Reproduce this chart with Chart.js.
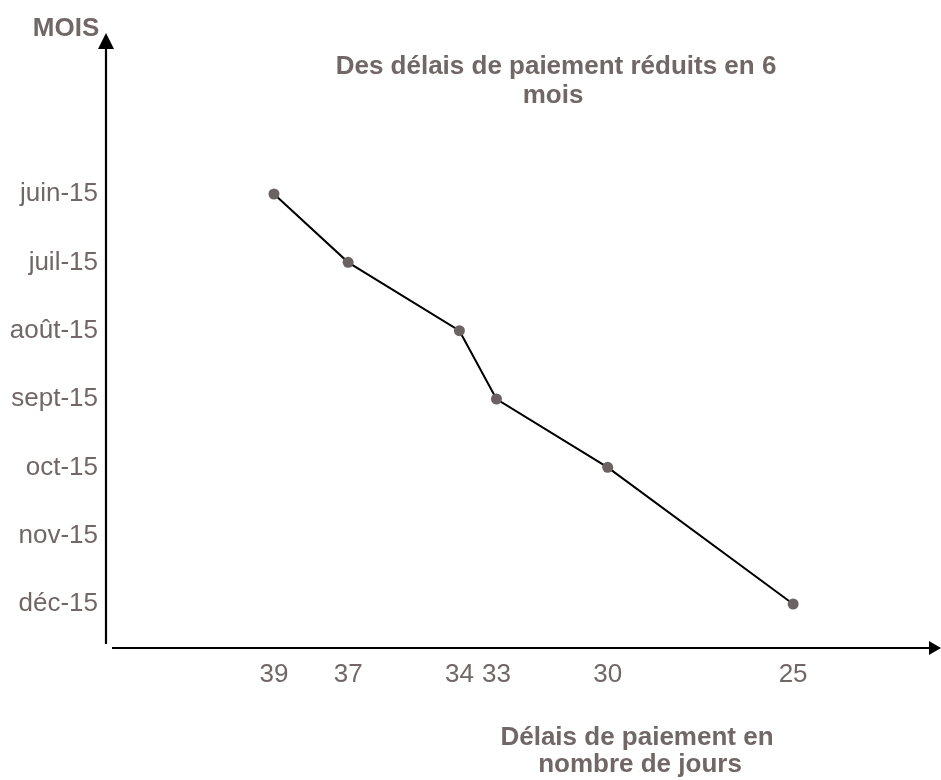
<!DOCTYPE html>
<html>
<head>
<meta charset="utf-8">
<script src="https://cdn.jsdelivr.net/npm/chart.js@4/dist/chart.umd.min.js"></script>
<style>
  html, body { margin: 0; padding: 0; background: #fff; }
  #wrap { width: 941px; height: 780px; }
</style>
</head>
<body>
<div id="wrap"><canvas id="myChart"></canvas></div>
<script>
// months on the vertical axis, top to bottom
let mois = ['juin-15','juil-15','août-15','sept-15','oct-15','nov-15','déc-15'];
// payment delay in days (no point for nov-15)
let delais = [39,37,34,33,30,null,25];
// tick labels along the horizontal axis
let joursTicks = [39,37,34,33,30,25];

let textColor = '#716767';

// arrows for both axes + free texts
const decor = {
  id: 'decor',
  beforeDatasetsDraw(chart) {
    const ctx = chart.ctx;
    const a = chart.chartArea;
    const x0 = a.left;
    ctx.save();
    ctx.strokeStyle = '#000';
    ctx.fillStyle = '#000';
    ctx.lineWidth = 2.2;
    // vertical axis
    ctx.beginPath();
    ctx.moveTo(x0, 644);
    ctx.lineTo(x0, 46);
    ctx.stroke();
    ctx.beginPath();
    ctx.moveTo(x0 - 8, 49);
    ctx.lineTo(x0 + 8, 49);
    ctx.lineTo(x0, 33);
    ctx.closePath();
    ctx.fill();
    // horizontal axis
    ctx.beginPath();
    ctx.moveTo(x0 + 6, 648);
    ctx.lineTo(932, 648);
    ctx.stroke();
    ctx.beginPath();
    ctx.moveTo(929, 641);
    ctx.lineTo(929, 655);
    ctx.lineTo(941, 648);
    ctx.closePath();
    ctx.fill();

    ctx.fillStyle = textColor;
    ctx.textAlign = 'center';
    ctx.textBaseline = 'middle';
    ctx.font = 'bold 26px "Liberation Sans", Arial, sans-serif';
    ctx.fillText('MOIS', 66, 29);
    ctx.fillText('Des délais de paiement réduits en 6', 556, 67);
    ctx.fillText('mois', 553, 96);
    ctx.fillText('Délais de paiement en', 637, 738);
    ctx.fillText('nombre de jours', 640, 765);
    ctx.restore();
  }
};

function renderChart(){
  let ctx = document.getElementById('myChart');
  new Chart(ctx, {
    type: 'line',
    data: {
      labels: mois,
      datasets: [{
        data: delais,
        borderColor: '#000',
        borderWidth: 2,
        pointBackgroundColor: '#6b6363',
        pointBorderWidth: 0,
        pointRadius: 5.5,
        spanGaps: true,
        clip: false,
        fill: false
      }]
    },
    options: {
      indexAxis: 'y',
      responsive: true,
      maintainAspectRatio: false,
      animation: false,
      layout: { padding: { top: 194, right: 1, bottom: 0, left: 0 } },
      plugins: { legend: { display: false }, tooltip: { enabled: false } },
      scales: {
        x: {
          type: 'linear',
          reverse: true,
          min: 21.16,
          max: 43.53,
          grid: { display: false, drawTicks: false },
          border: { display: false },
          afterBuildTicks: s => { s.ticks = joursTicks.map(v => ({ value: v })); },
          afterFit: s => { s.height = 176; },
          ticks: {
            autoSkip: false,
            maxRotation: 0,
            padding: 55,
            color: textColor,
            font: { family: '"Liberation Sans", Arial, sans-serif', size: 26 }
          }
        },
        y: {
          type: 'category',
          offset: false,
          grid: { display: false, drawTicks: false },
          border: { display: false },
          afterFit: s => { s.width = 106; },
          ticks: {
            padding: 8,
            color: textColor,
            font: { family: '"Liberation Sans", Arial, sans-serif', size: 26 }
          }
        }
      }
    },
    plugins: [decor]
  });
}

renderChart();
</script>
</body>
</html>
